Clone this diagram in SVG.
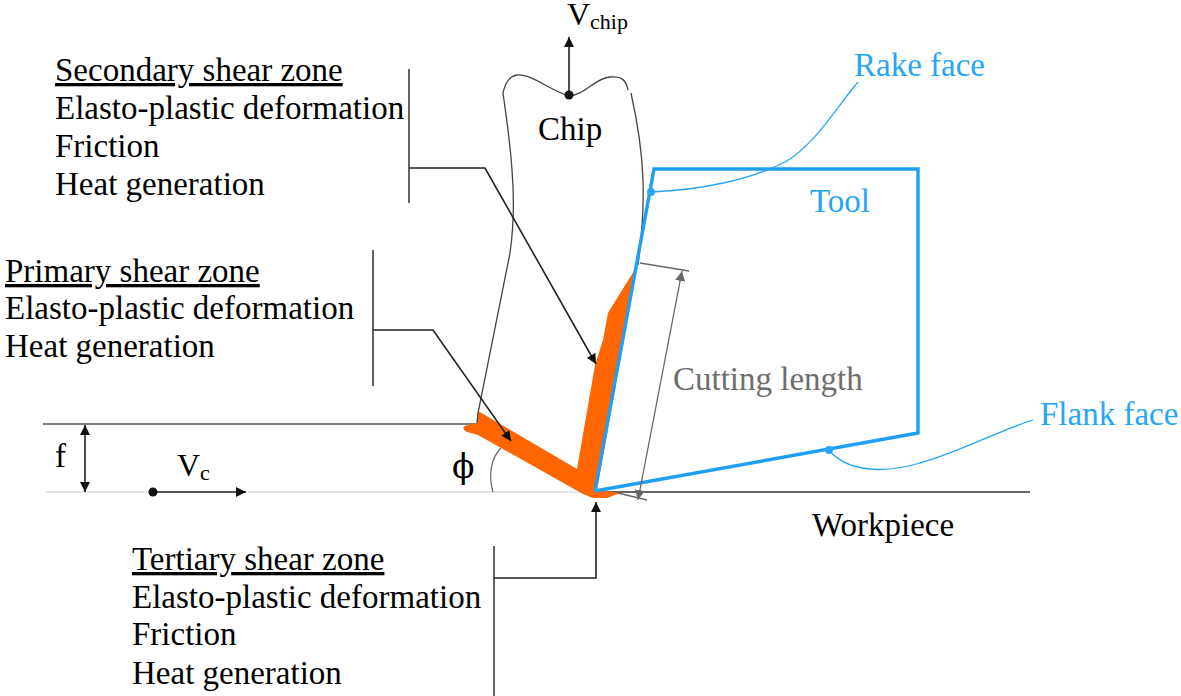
<svg xmlns="http://www.w3.org/2000/svg" width="1181" height="696" viewBox="0 0 1181 696">
<defs>
<marker id="ak" markerUnits="userSpaceOnUse" markerWidth="12" markerHeight="12" refX="10" refY="5" orient="auto-start-reverse"><path d="M0 0L10 5L0 10Z" fill="#111"/></marker>
<marker id="ag" markerUnits="userSpaceOnUse" markerWidth="12" markerHeight="12" refX="10" refY="5" orient="auto-start-reverse"><path d="M0 0L10 5L0 10Z" fill="#666"/></marker>
</defs>
<style>
text{font-family:"Liberation Serif","Times New Roman",serif;font-size:33px;fill:#000}
.b{fill:#2aa5f5}.g{fill:#6e6e6e}
.l{fill:none;stroke:#222;stroke-width:1.4}
.a{fill:none;stroke:#222;stroke-width:1.6;marker-end:url(#ak)}
.t{fill:none;stroke:#1e9ff2;stroke-width:3.4}
.tl{fill:none;stroke:#2aa5f5;stroke-width:1.3}
.gl{fill:none;stroke:#666;stroke-width:1.3}
</style>
<g id="workpiece">
<path d="M43 424H478" fill="none" stroke="#555" stroke-width="1.5"/>
<path d="M46 492H595" fill="none" stroke="#ddd" stroke-width="1.5"/>
<path d="M595 492H1030" fill="none" stroke="#666" stroke-width="1.8"/>
<text x="812" y="536">Workpiece</text>
</g>
<g id="shear-zones">
<path d="M478 411L577 469L595 365L603 340L608 313L637 266L597 490L620 493L607 498L593 498L583 494L478 435L467 432C462 429 462 426 468 425L477 423Z" fill="#f60"/>
</g>
<g id="chip">
<path d="M477 423L478 413L510 253C514 225 514 195 512 170C510 140 506 115 503 93C505 84 509 76 517 75C530 73 553 92 569 96C585 95 595 78 610 77C622 76 626 80 628 90" fill="none" stroke="#444" stroke-width="1.3"/>
<path d="M631 93C637 120 642 150 643 180C644 210 642 235 638 265" fill="none" stroke="#444" stroke-width="1.3"/>
<text x="538" y="140">Chip</text>
</g>
<g id="tool">
<path class="t" d="M595 491L654 169H918V433L595 491"/>
<text x="810" y="212" class="b">Tool</text>
</g>
<g id="connectors">
<path class="a" d="M569 95V37"/>
<circle cx="569" cy="95" r="4.5" fill="#111"/>
<path class="a" d="M153 492H246"/>
<circle cx="153" cy="492" r="4.5" fill="#111"/>
<path class="a" d="M85 425V492" style="marker-start:url(#ak)"/>
<path class="l" d="M409 69V203"/>
<path class="a" d="M409 168H485L596 364"/>
<path class="l" d="M373 250V386"/>
<path class="a" d="M373 330H433L511 441"/>
<path class="l" d="M494 546V696"/>
<path class="a" d="M494 578H596V502"/>
<path d="M493 492C488 475 491 458 501 448" fill="none" stroke="#666" stroke-width="1.2"/>
<path class="gl" d="M640 263L689 271"/>
<path class="gl" d="M618 493L647 500"/>
<path class="gl" d="M638 500L682 271" style="marker-start:url(#ag);marker-end:url(#ag)"/>
<path class="tl" d="M651 192C700 190 750 180 785 162C815 145 838 105 858 82"/>
<circle cx="651" cy="192" r="4" fill="#2aa5f5"/>
<path class="tl" d="M829 450C845 470 880 475 920 463C960 452 1000 430 1033 420"/>
<circle cx="829" cy="450" r="4" fill="#2aa5f5"/>
</g>
<g id="labels">
<text x="567" y="25" style="font-size:32px">V</text>
<text x="590" y="29" style="font-size:22px">chip</text>
<text x="854" y="76" class="b">Rake face</text>
<text x="1040" y="425" class="b">Flank face</text>
<text x="673" y="390" class="g">Cutting length</text>
<text x="55" y="467">f</text>
<text x="177" y="476" style="font-size:32px">V</text>
<text x="200" y="480" style="font-size:22px">c</text>
<text x="452" y="478" style="font-family:'DejaVu Serif','Liberation Serif',serif;font-size:33px">ϕ</text>
</g>
<g id="secondary-zone">
<text x="55" y="81" text-decoration="underline">Secondary shear zone</text>
<text x="55" y="119">Elasto-plastic deformation</text>
<text x="55" y="157">Friction</text>
<text x="55" y="195">Heat generation</text>
</g>
<g id="primary-zone">
<text x="5" y="282" text-decoration="underline">Primary shear zone</text>
<text x="5" y="319">Elasto-plastic deformation</text>
<text x="5" y="357">Heat generation</text>
</g>
<g id="tertiary-zone">
<text x="132" y="570" text-decoration="underline">Tertiary shear zone</text>
<text x="132" y="608">Elasto-plastic deformation</text>
<text x="132" y="645">Friction</text>
<text x="132" y="684">Heat generation</text>
</g>
</svg>
